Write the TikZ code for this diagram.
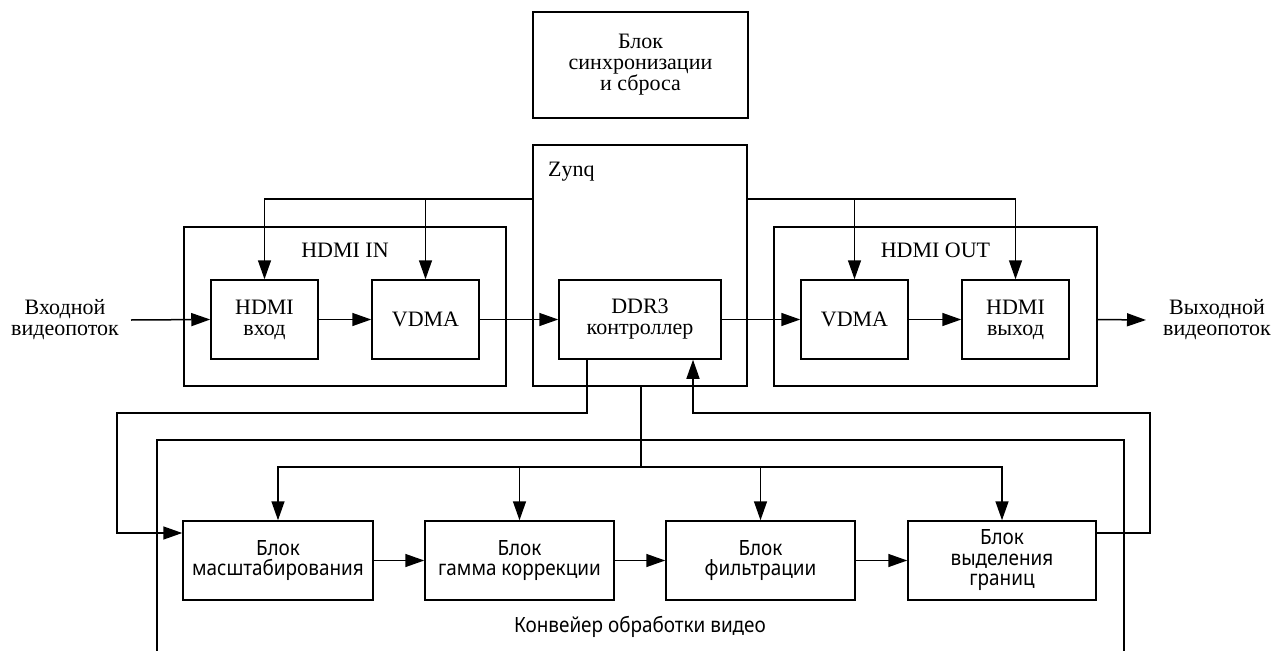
\documentclass[tikz,border=0pt]{standalone}
\usepackage{fontspec}
\setmainfont{Liberation Serif}
\newfontfamily\pipefont[FakeStretch=0.9]{Noto Sans}
\usetikzlibrary{arrows.meta}
\newcommand\serfnt{\fontsize{22}{21}\selectfont}
\newcommand\pipefnt{\pipefont\fontsize{21}{20.5}\selectfont}
\begin{document}
\begin{tikzpicture}[x=1pt,y=-1pt,
  lw/.style={line width=1.5pt},
  box/.style={draw,lw,inner sep=0pt,align=center,font=\serfnt},
  pbox/.style={draw,lw,inner sep=0pt,align=center,font=\pipefnt},
  lbl/.style={inner sep=0pt,align=center,font=\serfnt},
  arr/.style={lw,-{Triangle[length=19pt,width=13pt]}},
  ln/.style={lw}]
\useasboundingbox (0,0) rectangle (1281,650);
\fill[white] (0,0) rectangle (1281,650);
\clip (0,0) rectangle (1281,650);

% top block
\node[box,minimum width=215pt,minimum height=106pt] (sync) at (640.5,65) {Блок\\синхронизации\\и сброса};

% containers
\node[box,minimum width=214pt,minimum height=241pt] (zynq) at (640,265.5) {};
\node[lbl,anchor=west] (zynqlbl) at (548,172) {Zynq};
\node[box,minimum width=322pt,minimum height=159pt] (hdmiin) at (345,306.5) {};
\node[lbl] (hdmiinlbl) at (345,250) {HDMI IN};
\node[box,minimum width=323pt,minimum height=159pt] (hdmiout) at (935.5,306.5) {};
\node[lbl] (hdmioutlbl) at (935.5,250) {HDMI OUT};

% top row blocks
\node[box,minimum width=107pt,minimum height=79pt] (hin) at (264.5,319.5) {HDMI\\вход};
\node[box,minimum width=107pt,minimum height=79pt] (vin) at (425.5,319.5) {VDMA};
\node[box,minimum width=162pt,minimum height=79pt] (ddr) at (640,319.5) {DDR3\\контроллер};
\node[box,minimum width=107pt,minimum height=79pt] (vout) at (854.5,319.5) {VDMA};
\node[box,minimum width=107pt,minimum height=79pt] (hout) at (1015.5,319.5) {HDMI\\выход};

\node[lbl] (inlbl) at (65,320) {Входной\\видеопоток};
\node[lbl] (outlbl) at (1217,320) {Выходной\\видеопоток};
\coordinate (inL) at (131,320);
\coordinate (outR) at (1146,320);

% pipeline
\node[pbox,minimum width=967pt,minimum height=270pt] (pipe) at (640.5,575) {};
\node[inner sep=0pt,font=\pipefnt] (pipelbl) at (640,627) {Конвейер обработки видео};
\node[pbox,minimum width=190pt,minimum height=79pt] (scale) at (278,560.5) {Блок\\масштабирования};
\node[pbox,minimum width=189pt,minimum height=79pt] (gamma) at (519.5,560.5) {Блок\\гамма коррекции};
\node[pbox,minimum width=189pt,minimum height=79pt] (filt) at (760.5,560.5) {Блок\\фильтрации};
\node[pbox,minimum width=188pt,minimum height=79pt] (edge) at (1002,560.5) {Блок\\выделения\\границ};

% video flow
\draw[arr] (inL) -- (hin.west);
\draw[arr] (hin) -- (vin);
\draw[arr] (vin) -- (ddr);
\draw[arr] (ddr) -- (vout);
\draw[arr] (vout) -- (hout);
\draw[arr] (hdmiout.east |- hout.east) -- (outR);

% Zynq control lines
\draw[arr] (zynq.west |- 0,199) -| (hin.north);
\draw[arr] (zynq.west |- 0,199) -| (vin.north);
\draw[arr] (zynq.east |- 0,199) -| (vout.north);
\draw[arr] (zynq.east |- 0,199) -| (hout.north);

% DDR3 -> scaling
\draw[arr] (ddr.south -| 587,0) -- (587,413) -| (117,533) -- (scale.west |- 0,533);
% edge -> DDR3
\draw[arr] (edge.east |- 0,533) -- (1150,533) |- (693,413) -- (ddr.south -| 693,0);

% distribution
\draw[ln] (zynq.south -| 641,0) -- (641,467);
\draw[arr] (641,467) -| (scale.north);
\draw[arr] (641,467) -| (gamma.north);
\draw[arr] (641,467) -| (filt.north);
\draw[arr] (641,467) -| (edge.north);

% pipeline chain
\draw[arr] (scale) -- (gamma);
\draw[arr] (gamma) -- (filt);
\draw[arr] (filt) -- (edge);
\end{tikzpicture}
\end{document}
